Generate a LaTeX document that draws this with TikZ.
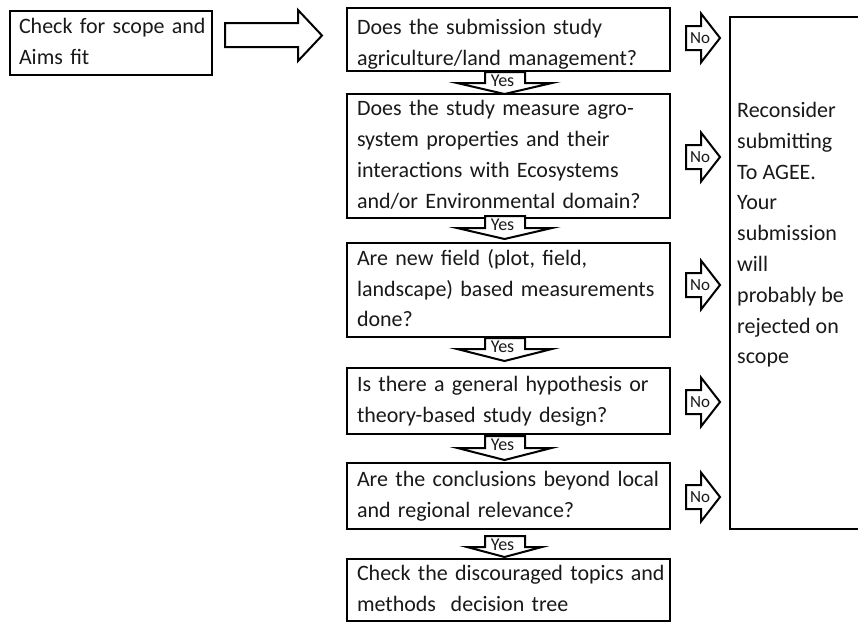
\documentclass[tikz,border=0pt]{standalone}
\usepackage{fontspec}
\setmainfont{Carlito}
\newcommand\lns[1]{\begin{tabular}{@{}l@{}}#1\end{tabular}}
\newcommand\yesarr[5]{%
  \draw[blk] (485,#2) -- (525,#2) -- (525,#3) -- (504.5+#5,#3) -- (504.5,#4) -- (504.5-#5,#3) -- (485,#3) -- cycle;
  \node[yeslbl] (#1) at (502.5,#2+8.5) {Yes};}
\newcommand\noarr[2]{%
  \draw[blk] (686,#2-12) -- (701,#2-12) -- (701,#2-24.5) -- (720,#2) -- (701,#2+24.5) -- (701,#2+12) -- (686,#2+12) -- cycle;
  \node[nolbl] (#1) at (700,#2) {No};}
\begin{document}
\begin{tikzpicture}[x=1pt,y=-1pt,
  every node/.style={text=black!90},
  txt/.style={font=\fontsize{22}{30.8}\selectfont},
  qbox/.style={txt, draw, line width=2pt, minimum width=323pt, text width=303pt,
    inner xsep=10pt, inner ysep=0pt, align=left},
  blk/.style={draw=black, fill=white, line width=2pt, line join=miter},
  yeslbl/.style={font=\fontsize{18}{20}\selectfont, inner sep=0pt},
  nolbl/.style={font=\fontsize{17}{20}\selectfont, inner sep=0pt}]
\useasboundingbox (0,0) rectangle (858,624);
\clip (0,0) rectangle (858,624);
\fill[white] (0,0) rectangle (858,624);

% start box
\node[txt, draw, line width=2pt, minimum width=202pt, minimum height=64pt, text width=184pt,
  inner xsep=9pt, inner ysep=0pt, align=left] (start) at (111,43) {\lns{Check for scope and\\Aims fit}};
\draw[blk] (225,23) -- (298,23) -- (298,10) -- (322,35.5) -- (298,61) -- (298,47) -- (225,47) -- cycle;

% question boxes
\node[qbox, minimum height=63pt] (q1) at (508.5,39.5) {\raisebox{-4pt}[\height][\depth]{\lns{Does the submission study\\agriculture/land management?}}};
\node[qbox, minimum height=118pt] (q2) at (508.5,156) {\lns{Does the study measure agro-\\system properties and their\\interactions with Ecosystems\\and/or Environmental domain?}};
\node[qbox, minimum height=94pt] (q3) at (508.5,290) {\lns{Are new field (plot, field,\\landscape) based measurements\\done?}};
\node[qbox, minimum height=66pt] (q4) at (508.5,401) {\lns{Is there a general hypothesis or\\theory-based study design?}};
\node[qbox, minimum height=66pt] (q5) at (508.5,496) {\lns{Are the conclusions beyond local\\and regional relevance?}};
\node[qbox, minimum height=62pt] (q6) at (508.5,590) {\lns{Check the discouraged topics and\\methods\ \ decision tree}};

% reject box
\node[draw, line width=2pt, minimum width=170pt, minimum height=512pt, inner sep=0pt] (rej) at (815,273) {};
\node[txt, anchor=north west, align=left, inner sep=0pt] (rejtxt) at (737,102)
  {Reconsider\\submitting\\To AGEE.\\Your\\submission\\will\\probably be\\rejected on\\scope};

% yes arrows
\yesarr{y1}{72}{83}{94}{47.5}
\yesarr{y2}{216}{228}{239}{47.5}
\yesarr{y3}{338}{349}{361}{47.5}
\yesarr{y4}{436}{448}{460}{47}
\yesarr{y5}{536}{547}{557}{37.5}

% no arrows
\noarr{n1}{38}
\noarr{n2}{157}
\noarr{n3}{285}
\noarr{n4}{402}
\noarr{n5}{497}
\end{tikzpicture}
\end{document}
